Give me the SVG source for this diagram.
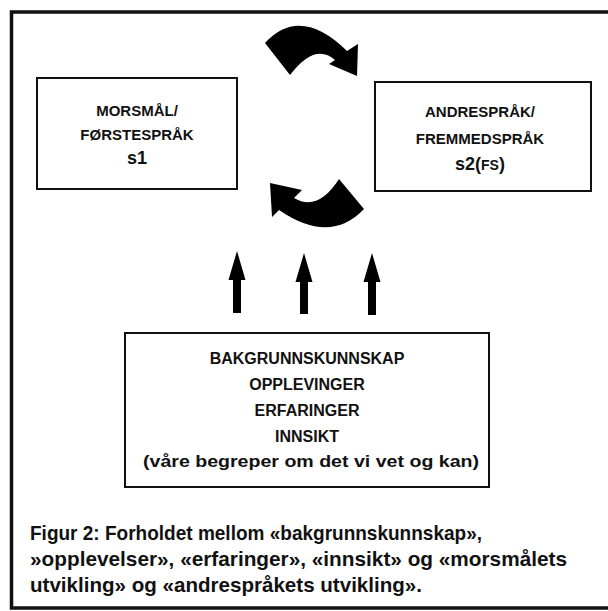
<svg xmlns="http://www.w3.org/2000/svg" width="608" height="611" viewBox="0 0 608 611">
<style>
.box{fill:#fff;stroke:#111;stroke-width:2}
.t{font-family:"Liberation Sans",Arial,sans-serif;font-weight:bold;fill:#111;text-anchor:middle}
.cap{font-family:"Liberation Sans",Arial,sans-serif;font-weight:bold;fill:#111;font-size:21px}
.arr{fill:#000}
</style>
<rect x="0" y="0" width="608" height="611" fill="#fff"/>
<rect x="11.5" y="12" width="620" height="596" fill="none" stroke="#111" stroke-width="3.5"/>
<g id="s1">
<rect class="box" x="37" y="78" width="200" height="111"/>
<text class="t" x="137" y="116" font-size="15">MORSMÅL/</text>
<text class="t" x="137" y="140" font-size="15">FØRSTESPRÅK</text>
<text class="t" x="137" y="164" font-size="18">s1</text>
</g>
<g id="s2">
<rect class="box" x="375" y="82" width="216" height="109"/>
<text class="t" x="480" y="117" font-size="15">ANDRESPRÅK/</text>
<text class="t" x="480" y="144" font-size="15">FREMMEDSPRÅK</text>
<text class="t" x="480" y="170" font-size="18">s2(<tspan font-size="14">FS</tspan>)</text>
</g>
<g id="bakgrunn">
<rect class="box" x="125" y="333" width="364" height="154"/>
<text class="t" x="307" y="364" font-size="16">BAKGRUNNSKUNNSKAP</text>
<text class="t" x="307" y="390" font-size="16">OPPLEVINGER</text>
<text class="t" x="307" y="416" font-size="16">ERFARINGER</text>
<text class="t" x="307" y="442" font-size="16">INNSIKT</text>
<text class="t" x="311" y="467" font-size="16" textLength="336" lengthAdjust="spacingAndGlyphs">(våre begreper om det vi vet og kan)</text>
</g>
<g id="connectors">
<path class="arr" d="M265,43 Q300,5 347,51 L358,44 L357,76 L329,64 L335,60 Q315,42 290,75 Z"/>
<path class="arr" d="M270,183 L302,190 L294,198 Q318,212 339,179 L364,209 Q330,245 279,210 L272,217 Z"/>
<path class="arr" d="M237,251 L245.5,280 L241,280 L241,313 L233,313 L233,280 L228.5,280 Z"/>
<path class="arr" d="M304,253 L312.5,282 L308,282 L308,314 L300,314 L300,282 L295.5,282 Z"/>
<path class="arr" d="M372,253 L380.5,282 L376,282 L376,315 L368,315 L368,282 L363.5,282 Z"/>
</g>
<g id="caption">
<text class="cap" x="30" y="540" textLength="452" lengthAdjust="spacingAndGlyphs">Figur 2: Forholdet mellom «bakgrunnskunnskap»,</text>
<text class="cap" x="30" y="566" textLength="537" lengthAdjust="spacingAndGlyphs">»opplevelser», «erfaringer», «innsikt» og «morsmålets</text>
<text class="cap" x="30" y="592" textLength="392" lengthAdjust="spacingAndGlyphs">utvikling» og «andrespråkets utvikling».</text>
</g>
</svg>
